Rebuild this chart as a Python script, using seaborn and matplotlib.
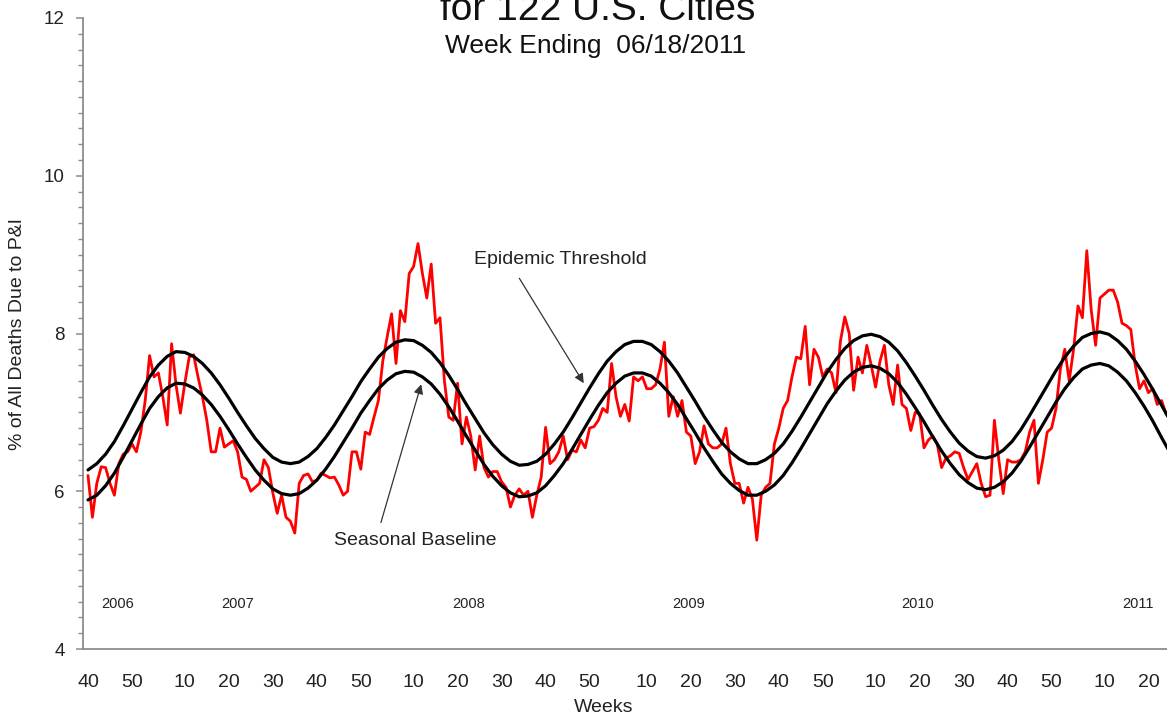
import matplotlib
matplotlib.use("Agg")
import matplotlib.pyplot as plt
import numpy as np
import pandas as pd
import seaborn as sns
from matplotlib.ticker import MultipleLocator, FixedLocator

# ---- data (week index 0 = 2006 week 40) ----
weeks = list(range(246))
pi_pct = [
    6.20, 5.67, 6.10, 6.31, 6.30, 6.10, 5.95, 6.35, 6.47, 6.50,
    6.60, 6.50, 6.75, 7.15, 7.72, 7.45, 7.50, 7.20, 6.84, 7.87,
    7.35, 6.99, 7.37, 7.70, 7.73, 7.45, 7.20, 6.90, 6.50, 6.50,
    6.80, 6.56, 6.60, 6.64, 6.50, 6.18, 6.15, 6.00, 6.05, 6.10,
    6.40, 6.30, 5.98, 5.72, 5.95, 5.67, 5.62, 5.47, 6.10, 6.20,
    6.22, 6.12, 6.14, 6.23, 6.20, 6.17, 6.18, 6.08, 5.95, 6.00,
    6.50, 6.50, 6.28, 6.75, 6.72, 6.94, 7.15, 7.65, 7.96, 8.25,
    7.62, 8.29, 8.15, 8.76, 8.85, 9.14, 8.76, 8.45, 8.88, 8.13,
    8.20, 7.40, 6.94, 6.90, 7.37, 6.60, 6.94, 6.70, 6.27, 6.70,
    6.30, 6.18, 6.25, 6.25, 6.12, 6.05, 5.80, 5.95, 6.03, 5.95,
    6.00, 5.67, 5.95, 6.18, 6.81, 6.35, 6.40, 6.50, 6.70, 6.40,
    6.52, 6.50, 6.65, 6.55, 6.80, 6.82, 6.90, 7.05, 7.00, 7.62,
    7.20, 6.95, 7.10, 6.89, 7.45, 7.40, 7.45, 7.30, 7.30, 7.35,
    7.55, 7.89, 6.95, 7.20, 6.95, 7.15, 6.75, 6.70, 6.35, 6.50,
    6.83, 6.60, 6.55, 6.55, 6.60, 6.80, 6.35, 6.10, 6.10, 5.85,
    6.05, 5.90, 5.38, 5.95, 6.05, 6.10, 6.60, 6.80, 7.05, 7.15,
    7.45, 7.70, 7.68, 8.09, 7.35, 7.80, 7.70, 7.45, 7.55, 7.50,
    7.25, 7.90, 8.21, 8.00, 7.28, 7.70, 7.50, 7.85, 7.60, 7.32,
    7.65, 7.85, 7.35, 7.10, 7.60, 7.10, 7.05, 6.77, 7.00, 6.98,
    6.55, 6.65, 6.70, 6.60, 6.30, 6.42, 6.45, 6.50, 6.48, 6.30,
    6.15, 6.25, 6.35, 6.10, 5.93, 5.95, 6.90, 6.40, 5.97, 6.40,
    6.37, 6.37, 6.40, 6.50, 6.75, 6.90, 6.10, 6.40, 6.75, 6.80,
    7.05, 7.55, 7.80, 7.40, 7.80, 8.35, 8.20, 9.05, 8.30, 7.85,
    8.45, 8.50, 8.55, 8.55, 8.40, 8.13, 8.10, 8.05, 7.60, 7.30,
    7.40, 7.25, 7.30, 7.10, 7.15, 6.98,
]

curve_weeks = list(range(0, 247, 2))
baseline = [
    5.89, 5.95, 6.07, 6.23, 6.43, 6.64, 6.85, 7.05, 7.20, 7.31, 7.37,
    7.36, 7.31, 7.22, 7.10, 6.95, 6.78, 6.60, 6.43, 6.27, 6.14, 6.03, 5.97,
    5.95, 5.97, 6.04, 6.14, 6.28, 6.44, 6.62, 6.80, 6.99, 7.15, 7.30, 7.41, 7.49, 7.52,
    7.51, 7.45, 7.36, 7.23, 7.07, 6.89, 6.70, 6.52, 6.34, 6.19, 6.07, 5.98, 5.93,
    5.94, 5.98, 6.07, 6.20, 6.35, 6.53, 6.72, 6.91, 7.09, 7.25, 7.37, 7.46, 7.50,
    7.50, 7.46, 7.37, 7.25, 7.10, 6.92, 6.74, 6.55, 6.38, 6.22, 6.10, 6.01, 5.95,
    5.95, 6.00, 6.08, 6.20, 6.36, 6.54, 6.73, 6.92, 7.11, 7.27, 7.41, 7.51, 7.57,
    7.59, 7.56, 7.49, 7.38, 7.23, 7.06, 6.88, 6.69, 6.51, 6.35, 6.21, 6.11, 6.04,
    6.02, 6.05, 6.12, 6.23, 6.38, 6.56, 6.75, 6.94, 7.13, 7.30, 7.44, 7.55, 7.60,
    7.62, 7.59, 7.51, 7.40, 7.25, 7.08, 6.89, 6.68, 6.48,
]
threshold = [
    6.27, 6.35, 6.47, 6.63, 6.83, 7.04, 7.25, 7.45, 7.60, 7.71, 7.77,
    7.76, 7.71, 7.62, 7.50, 7.35, 7.18, 7.00, 6.83, 6.67, 6.54, 6.43, 6.37,
    6.35, 6.37, 6.44, 6.54, 6.68, 6.84, 7.02, 7.20, 7.39, 7.55, 7.70, 7.81, 7.89, 7.92,
    7.91, 7.85, 7.76, 7.63, 7.47, 7.29, 7.10, 6.92, 6.74, 6.59, 6.47, 6.38, 6.33,
    6.34, 6.38, 6.47, 6.60, 6.75, 6.93, 7.12, 7.31, 7.49, 7.65, 7.77, 7.86, 7.90,
    7.90, 7.86, 7.77, 7.65, 7.50, 7.32, 7.14, 6.95, 6.78, 6.62, 6.50, 6.41, 6.35,
    6.35, 6.40, 6.48, 6.60, 6.76, 6.94, 7.13, 7.32, 7.51, 7.67, 7.81, 7.91, 7.97,
    7.99, 7.96, 7.89, 7.78, 7.63, 7.46, 7.28, 7.09, 6.91, 6.75, 6.61, 6.51, 6.44,
    6.42, 6.45, 6.52, 6.63, 6.78, 6.96, 7.15, 7.34, 7.53, 7.70, 7.84, 7.95, 8.00,
    8.02, 7.99, 7.91, 7.80, 7.65, 7.48, 7.29, 7.09, 6.89,
]

tick_pos = [0, 10, 22, 32, 42, 52, 62, 74, 84, 94, 104, 114,
            127, 137, 147, 157, 167, 179, 189, 199, 209, 219, 231, 241]
tick_labels = ["40", "50", "10", "20", "30", "40", "50", "10", "20", "30", "40", "50",
               "10", "20", "30", "40", "50", "10", "20", "30", "40", "50", "10", "20"]
year_labels = ["2006", "2007", "2008", "2009", "2010", "2011"]
year_pos = [6.8, 33.9, 86.4, 136.4, 188.6, 238.6]

title_text = "for 122 U.S. Cities"
subtitle_text = "Week Ending  06/18/2011"
ylabel_text = "% of All Deaths Due to P&I"
xlabel_text = "Weeks"

# ---- style ----
sns.set_style("white")
plt.rcParams["font.family"] = ["Liberation Sans", "DejaVu Sans"]

W, H = 1167, 719
fig = plt.figure(figsize=(W / 100, H / 100), dpi=100)
ax = fig.add_axes([83 / W, 70 / H, 1 - 83 / W, 631 / H])

df = pd.DataFrame({"week": weeks, "pct": pi_pct})
dfc = pd.DataFrame({"week": curve_weeks, "baseline": baseline, "threshold": threshold})

sns.lineplot(data=df, x="week", y="pct", color="#ff0000", lw=2.0, ax=ax)
sns.lineplot(data=dfc, x="week", y="threshold", color="#000000", lw=2.3, ax=ax)
sns.lineplot(data=dfc, x="week", y="baseline", color="#000000", lw=2.3, ax=ax)

ax.set_xlim(-5 / 4.4, (W - 88) / 4.4)
ax.set_ylim(4, 12)

for s in ["top", "right"]:
    ax.spines[s].set_visible(False)
for s in ["left", "bottom"]:
    ax.spines[s].set_color("#8c8c8c")
    ax.spines[s].set_linewidth(1.3)

ax.yaxis.set_major_locator(MultipleLocator(2))
ax.yaxis.set_minor_locator(MultipleLocator(0.2))
ax.tick_params(axis="y", which="major", direction="out", length=5, width=1.1,
               color="#8c8c8c", labelsize=13.5, labelcolor="#222222", pad=8, left=True)
ax.tick_params(axis="y", which="minor", direction="out", length=3.5, width=1.0,
               color="#8c8c8c", left=True)

ax.xaxis.set_major_locator(FixedLocator(tick_pos))
ax.set_xticklabels(tick_labels)
ax.tick_params(axis="x", which="both", length=0, labelsize=14, labelcolor="#222222", pad=18)

ax.set_ylabel(ylabel_text, fontsize=14, color="#222222")
ax.yaxis.set_label_coords((18 - 83) / (W - 83), 0.5)
ax.yaxis.label.set_va("center")
ax.set_xlabel(xlabel_text, fontsize=14, color="#222222")
ax.xaxis.set_label_coords((604 - 83) / (W - 83), (649 - 708) / 631)
ax.xaxis.label.set_va("center")

for lab, xp in zip(year_labels, year_pos):
    ax.text(xp, 4.57, lab, ha="center", va="center", fontsize=10.5, color="#222222")

# annotations
ax.annotate("", xy=(113.0, 7.34), xytext=(97.7, 8.73),
            arrowprops=dict(arrowstyle="-|>", color="#333333", lw=0.9, mutation_scale=14))
ax.text(107.3, 8.94, "Epidemic Threshold", ha="center", va="center", fontsize=14, color="#222222")
ax.annotate("", xy=(75.9, 7.39), xytext=(66.4, 5.57),
            arrowprops=dict(arrowstyle="-|>", color="#333333", lw=0.9, mutation_scale=14))
ax.text(74.3, 5.37, "Seasonal Baseline", ha="center", va="center", fontsize=14, color="#222222")

fig.text(598 / W, 1 - 20 / H, title_text, ha="center", va="baseline", fontsize=28, color="#111111")
fig.text(596 / W, 1 - 53 / H, subtitle_text, ha="center", va="baseline", fontsize=19, color="#111111")

fig.savefig("out.png", dpi=100)
